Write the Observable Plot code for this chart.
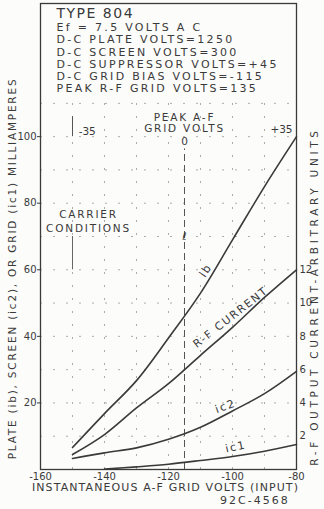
<!DOCTYPE html>
<html>
<head>
<meta charset="utf-8">
<script src="https://cdn.jsdelivr.net/npm/d3@7"></script>
<script src="https://cdn.jsdelivr.net/npm/@observablehq/plot@0.6"></script>
<style>
  html, body { margin: 0; padding: 0; background: #fcfcfa; }
  #chart svg { display: block; }
</style>
</head>
<body>
<div id="chart"></div>
<script>
// ---- data ----
const volts = [-150, -140, -130, -120, -110, -100, -90, -80];
const ib    = [6.6, 16.8, 26.7, 39.5, 53, 69, 85, 100];
const rf    = [4.5, 10.5, 18.5, 25.8, 34.3, 42.7, 51.7, 60];   // on mA scale: 1 unit = 5 mA
const ic2   = [3.3, 5, 6.5, 9.1, 12.7, 17.6, 22.8, 29.5];
const ic1   = [null, 0.1, 0.8, 1.6, 2.7, 3.9, 5.5, 7.5];

const xTicks = [-160, -140, -120, -100, -80];
const yTicks = [20, 40, 60, 80, 100];
const rightTicks = [10, 20, 30, 40, 50, 60];
const gridV = [-150, -140, -130, -120, -110, -100, -90];
const gridH = [10, 20, 30, 40, 50, 60, 70, 80, 90, 100, 110];

const header = [
  "Ef = 7.5 VOLTS A C",
  "D-C PLATE VOLTS=1250",
  "D-C SCREEN VOLTS=300",
  "D-C SUPPRESSOR VOLTS=+45",
  "D-C GRID BIAS VOLTS=-115",
  "PEAK R-F GRID VOLTS=135"
];

const curveLabels = [
  {x: -108.4, y: 59.8, text: "ib", rotate: -57},
  {x: -100.6, y: 45.7, text: "R-F CURRENT", rotate: -38},
  {x: -102.2, y: 19.0, text: "ic2", rotate: -20},
  {x: -99.0,  y: 6.8,  text: "ic1", rotate: -12}
];
const notes = [
  {x: -145, y: 76.6, text: "CARRIER"},
  {x: -145, y: 72.4, text: "CONDITIONS"},
  {x: -115, y: 105.8, text: "PEAK A-F"},
  {x: -115, y: 102.4, text: "GRID VOLTS"},
  {x: -115, y: 98.5, text: "0"},
  {x: -145.4, y: 101.5, text: "-35"},
  {x: -84.7, y: 102.1, text: "+35"},
  {x: -115, y: 70, text: "ℓ"}
];

const series = [
  {name: "ib", vals: ib},
  {name: "rf", vals: rf},
  {name: "ic2", vals: ic2},
  {name: "ic1", vals: ic1}
];
const rows = series.flatMap(s => volts.map((v, i) => ({v, val: s.vals[i], s: s.name}))).filter(d => d.val != null);

const ink = "#3a3a3a";
const font = "DejaVu Sans, sans-serif";

const chart = Plot.plot({
  width: 324,
  height: 509,
  marginLeft: 40,
  marginRight: 28,
  marginTop: 3,
  marginBottom: 40,
  style: {background: "#fcfcfa", color: ink, fontFamily: font, fontSize: "10px"},
  x: {domain: [-160, -80]},
  y: {domain: [0, 140]},
  marks: [
    Plot.ruleX(gridV, {y1: 0, y2: 110, stroke: "#777", strokeOpacity: 0.6, strokeDasharray: "2,11"}),
    Plot.ruleY(gridH, {x1: -160, x2: -80, stroke: "#777", strokeOpacity: 0.6, strokeDasharray: "2,11"}),
    Plot.ruleX([-115], {y1: 0, y2: 96.3, stroke: "#555", strokeWidth: 1, strokeDasharray: "7,4"}),
    Plot.ruleX([-150], {y1: 60, y2: 70, stroke: "#666"}),
    Plot.ruleX([-150, -80], {y1: 100, y2: 106, stroke: "#555"}),
    Plot.frame({stroke: ink, strokeWidth: 1.3}),
    Plot.axisY({ticks: yTicks, tickSize: 3, tickPadding: 1, fontSize: 10, label: null}),
    Plot.axisY({anchor: "right", ticks: rightTicks, tickFormat: d => d / 5, tickSize: 0, tickPadding: 3, fontSize: 10, label: null}),
    Plot.axisX({ticks: xTicks, tickSize: 0, tickPadding: 3, fontSize: 10, label: null, tickFormat: d => String(d)}),
    Plot.line(rows, {x: "v", y: "val", z: "s", stroke: ink, strokeWidth: 1.6, curve: "catmull-rom"}),
    Plot.text(curveLabels, {x: "x", y: "y", text: "text", rotate: "rotate", fontSize: 11, fill: ink}),
    Plot.text(notes, {x: "x", y: "y", text: "text", fontSize: 10.5, fill: ink}),
    Plot.text(["TYPE 804"], {frameAnchor: "top-left", dx: 16, dy: 5, fontSize: 14, fill: ink, textAnchor: "start"}),
    Plot.text([header.join("\n")], {frameAnchor: "top-left", dx: 16, dy: 19, fontSize: 11, lineHeight: 1.11, fill: ink, textAnchor: "start", lineAnchor: "top"}),
    Plot.text(["PLATE (ib), SCREEN (ic2), OR GRID (ic1) MILLIAMPERES"], {frameAnchor: "left", dx: -28, dy: 32, rotate: -90, textAnchor: "middle", fontSize: 10.5, fill: ink}),
    Plot.text(["R-F OUTPUT CURRENT-ARBITRARY UNITS"], {frameAnchor: "right", dx: 18, dy: 60, rotate: -90, textAnchor: "middle", fontSize: 10.5, fill: ink}),
    Plot.text(["INSTANTANEOUS A-F GRID VOLTS (INPUT)"], {frameAnchor: "bottom", dx: -3, dy: 21, fontSize: 11, fill: ink}),
    Plot.text(["92C-4568"], {x: -93, frameAnchor: "bottom", dy: 34, fontSize: 11, fill: ink})
  ]
});

// letter spacing of the technical lettering, applied by text content
const spacing = [
  [t => t.startsWith("Ef"), 2.3],
  [t => t.startsWith("TYPE"), 1.5],
  [t => t.startsWith("PLATE"), 1.8],
  [t => t.startsWith("R-F OUTPUT"), 3.7],
  [t => t.startsWith("INSTANTANEOUS"), 1.1],
  [t => t === "92C-4568", 2],
  [t => ["ib", "R-F CURRENT", "ic2", "ic1"].includes(t), 1.6],
  [t => ["CARRIER", "CONDITIONS", "PEAK A-F", "GRID VOLTS"].includes(t), 1.8]
];
chart.querySelectorAll("text").forEach(el => {
  const t = el.textContent;
  for (const [test, ls] of spacing) {
    if (test(t)) { el.setAttribute("letter-spacing", ls); el.style.letterSpacing = ls + "px"; break; }
  }
});
document.getElementById("chart").append(chart);
</script>
</body>
</html>
